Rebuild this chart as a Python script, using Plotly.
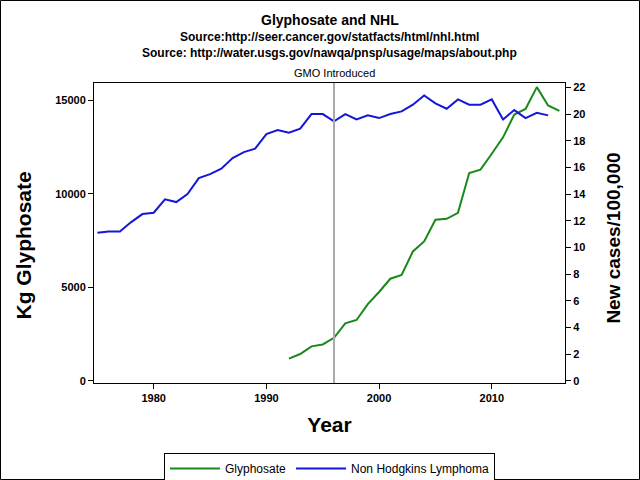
import plotly.graph_objects as go

# NHL incidence (new cases per 100,000), right axis
nhl_years = list(range(1975, 2016))
nhl_rate = [11.1, 11.2, 11.2, 11.9, 12.5, 12.6, 13.6, 13.4, 14.0, 15.2,
            15.5, 15.9, 16.7, 17.15, 17.4, 18.5, 18.8, 18.6, 18.9, 20.0,
            20.0, 19.45, 20.0, 19.6, 19.9, 19.7, 20.0, 20.2, 20.7, 21.4,
            20.8, 20.4, 21.1, 20.7, 20.7, 21.1, 19.6, 20.3, 19.7, 20.1, 19.9]

# glyphosate use, left axis
gly_years = list(range(1992, 2017))
gly_kg = [1180, 1430, 1840, 1940, 2300, 3070, 3250, 4100, 4750, 5460,
          5660, 6920, 7460, 8620, 8670, 8990, 11120, 11300, 12150, 13030,
          14250, 14550, 15720, 14740, 14450]

gmo_year = 1996

font = "Arial, Liberation Sans, sans-serif"

fig = go.Figure()
fig.add_trace(go.Scatter(x=gly_years, y=gly_kg, mode="lines", name="Glyphosate",
                         line=dict(color="#1a881a", width=2)))
fig.add_trace(go.Scatter(x=nhl_years, y=nhl_rate, mode="lines", name="Non Hodgkins Lymphoma",
                         line=dict(color="#1616d8", width=2), yaxis="y2"))

fig.add_vline(x=gmo_year, line=dict(color="#aaaaaa", width=2))

title_lines = [
    ("Glyphosate and NHL", 14, 1.211),
    ("Source:http://seer.cancer.gov/statfacts/html/nhl.html", 12, 1.152),
    ("Source: http://water.usgs.gov/nawqa/pnsp/usage/maps/about.php", 12, 1.099),
]
for txt, size, ypos in title_lines:
    fig.add_annotation(text=txt, xref="paper", yref="paper", x=0.5, y=ypos,
                       xanchor="center", yanchor="middle", showarrow=False,
                       font=dict(family=font, size=size, color="black", weight="bold"))
fig.add_annotation(text="GMO Introduced", x=gmo_year, xref="x", yref="paper", y=1.034,
                   xanchor="center", yanchor="middle", showarrow=False,
                   font=dict(family=font, size=11, color="black"))

# y axis titles sit a little below the axis centre in the original
fig.add_annotation(text="Kg Glyphosate", xref="paper", yref="paper", x=-0.1497, y=0.46,
                   textangle=-90, xanchor="center", yanchor="middle", showarrow=False,
                   font=dict(family=font, size=21, color="black", weight="bold"))
fig.add_annotation(text="New cases/100,000", xref="paper", yref="paper", x=1.103, y=0.483,
                   textangle=-90, xanchor="center", yanchor="middle", showarrow=False,
                   font=dict(family=font, size=19, color="black", weight="bold"))

# border around the whole picture
fig.add_shape(type="rect", xref="paper", yref="paper",
              x0=-0.1985, x1=1.1582, y0=-0.3217, y1=1.275,
              line=dict(color="black", width=1), layer="above")

tick_font = dict(family=font, size=11, color="black", weight="bold")

fig.update_layout(
    width=640, height=480,
    margin=dict(l=94, r=75, t=83, b=97, autoexpand=False),
    paper_bgcolor="white", plot_bgcolor="white",
    showlegend=True,
    legend=dict(orientation="h", x=0.5, xanchor="center", y=-0.233, yanchor="top",
                bordercolor="black", borderwidth=1,
                font=dict(family=font, size=12, color="black"),
                itemwidth=50, tracegroupgap=0),
    xaxis=dict(range=[1974.7, 2016.5], tickvals=[1980, 1990, 2000, 2010],
               showgrid=False, zeroline=False, showline=True, linecolor="black",
               linewidth=1, mirror=True, ticks="outside", ticklen=5, tickcolor="black",
               tickfont=tick_font, automargin=False,
               title=dict(text="Year", standoff=14,
                          font=dict(family=font, size=21, color="black", weight="bold"))),
    yaxis=dict(range=[-123, 15940], tickvals=[0, 5000, 10000, 15000], tickformat="d",
               showgrid=False, zeroline=False, showline=True, linecolor="black",
               linewidth=1, ticks="outside", ticklen=5, tickcolor="black",
               tickfont=tick_font, automargin=False),
    yaxis2=dict(range=[-0.17, 22.33], tickvals=list(range(0, 23, 2)),
                overlaying="y", side="right",
                showgrid=False, zeroline=False, showline=True, linecolor="black",
                linewidth=1, ticks="outside", ticklen=5, tickcolor="black",
                tickfont=tick_font, automargin=False),
)

# page body margin would shift the fixed-size figure out of the window
fig.write_html("out.html", config={"displayModeBar": False},
               post_script="document.body.style.margin='0';")
